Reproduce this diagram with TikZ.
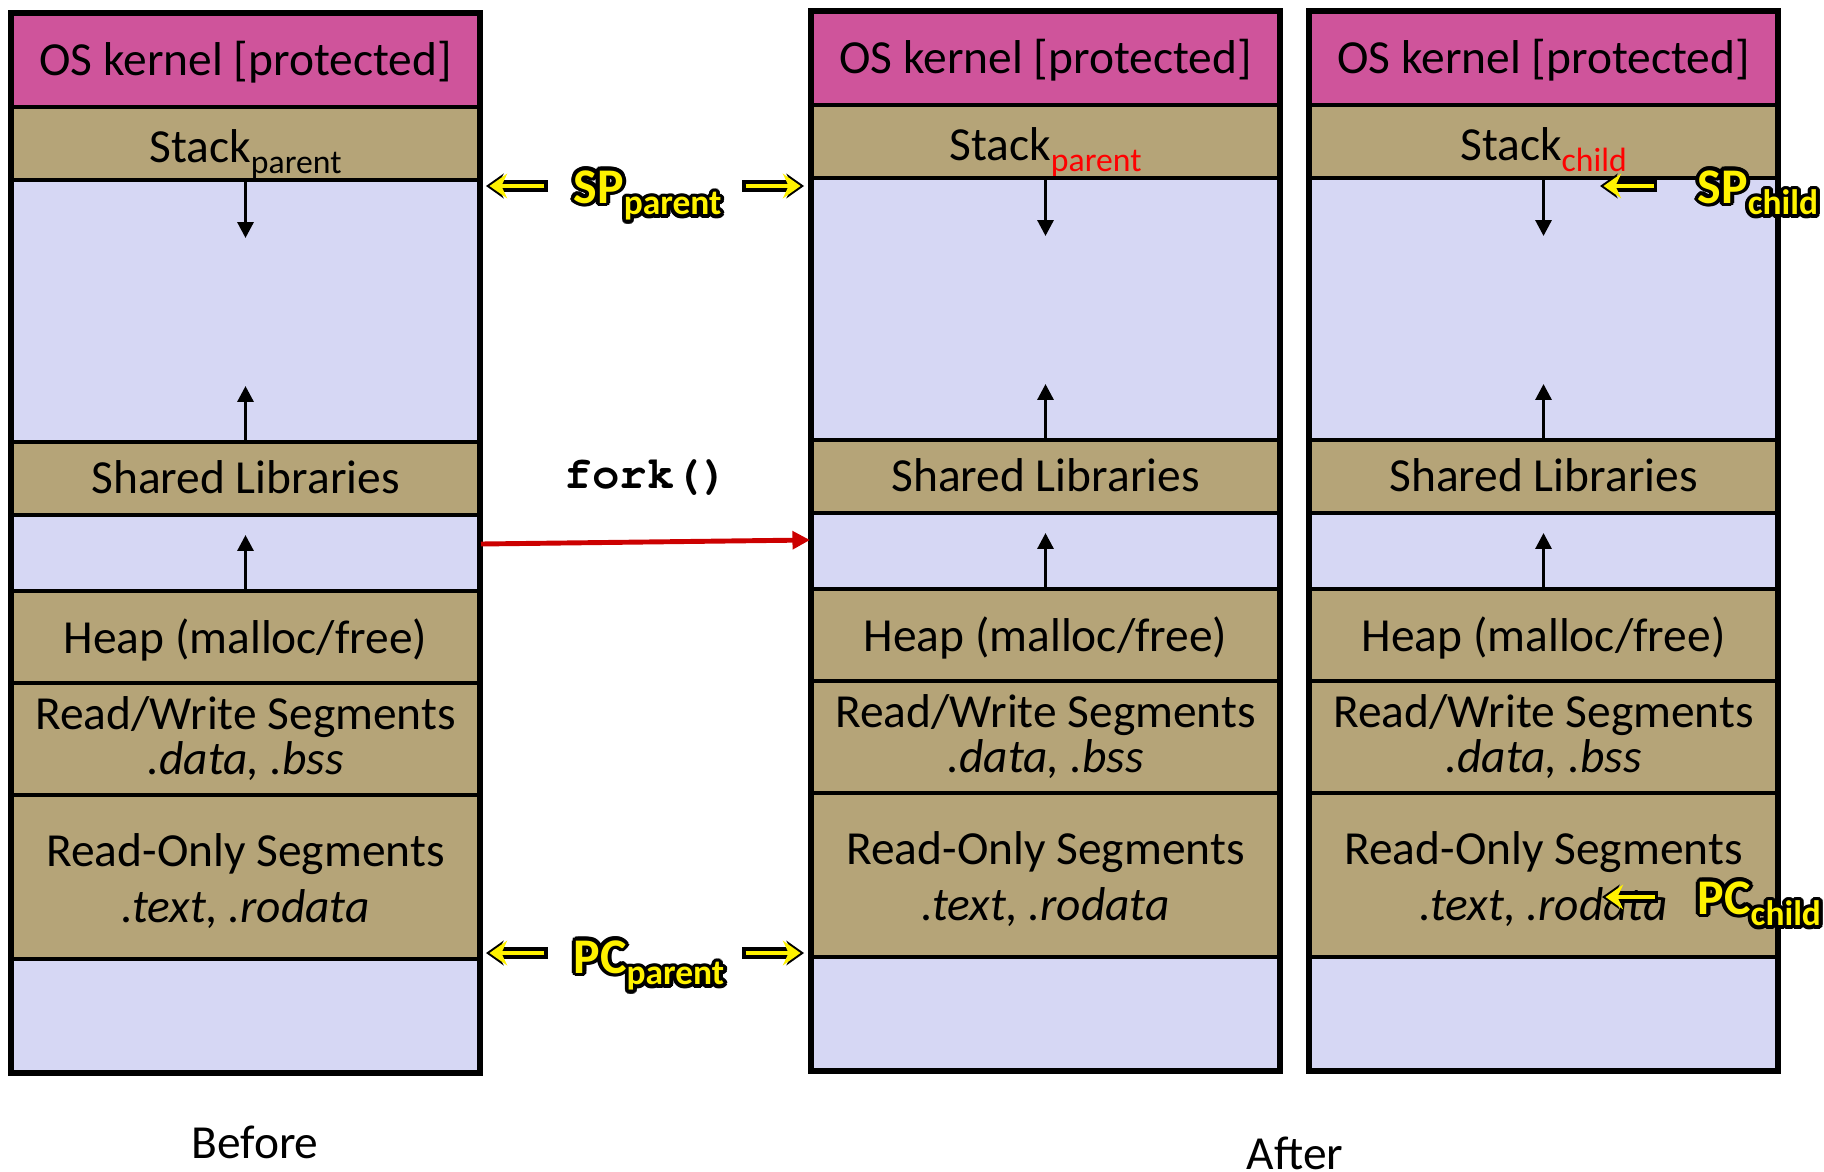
\documentclass[tikz,border=0pt]{standalone}
\usepackage{fontspec}
\usepackage[T1,TU]{fontenc}
\setmainfont{Carlito}
\newcommand\codefont{\fontencoding{T1}\fontfamily{pcr}\fontseries{b}\selectfont}
\usetikzlibrary{arrows.meta}

\definecolor{kernpink}{RGB}{207,84,155}
\definecolor{segtan}{RGB}{181,164,120}
\definecolor{freelav}{RGB}{214,215,244}
\definecolor{forkred}{RGB}{204,0,0}

% small lowered word after a name
\newcommand\subtag[2][.]{\raisebox{-0.24em}{\scalebox{0.71}{\color{#1}#2}}}

% yellow register name with a black halo round it
\newcommand\glowtag[3]{%
  \foreach \a in {0,22.5,...,337.5}
    \node[regtag,text=black] at ([shift={(\a:1.1pt)}]#2) {#3};
  \node[regtag] (#1) at (#2) {#3};}

\begin{document}
\begin{tikzpicture}[x=0.1mm,y=-0.1mm,
    seg/.style={draw,line width=0.9pt,inner sep=0,minimum width=4.67cm,align=center,
      font=\fontsize{13.5}{16}\selectfont},
    oneline/.style={text height=8.6pt,text depth=0pt},
    growarrow/.style={-{Triangle[length=4.5pt,width=4.5pt]},line width=0.9pt},
    regtag/.style={anchor=base west,inner sep=0,text=yellow,
      font=\bfseries\fontsize{14.2}{17}\selectfont},
    halo/.style={draw=black,line width=3.2pt,line join=round,-{Stealth[length=5pt,width=7pt]}},
    ptr/.style={draw=yellow,line width=1.4pt,shorten >=1pt,shorten <=1pt,
      -{Stealth[length=5pt,width=7pt]}},
    caption/.style={font=\fontsize{13.5}{16}\selectfont}]

  \useasboundingbox (0,0) rectangle (1824,1171);

  % the three address spaces: before, parent after, child after
  \foreach \c/\x/\dy/\sb in {b/12/2/{\subtag{parent}},
                              p/812/0/{\subtag[red]{parent}},
                              k/1310/0/{\subtag[red]{child}}} {
    \begin{scope}[shift={(\x+233.5,\dy)}]
      \node[seg,oneline,fill=kernpink,minimum height=0.93cm] (\c-kern) at (0,58.5) {OS kernel [protected]};
      \node[seg,oneline,text height=10.6pt,fill=segtan,minimum height=0.73cm] (\c-stack) at (0,141.5) {Stack\sb};
      \node[seg,fill=freelav,minimum height=2.62cm] (\c-gap) at (0,309) {};
      \node[seg,oneline,fill=segtan,minimum height=0.73cm] (\c-lib) at (0,476.5) {Shared Libraries};
      \node[seg,fill=freelav,minimum height=0.76cm] (\c-brk) at (0,551) {};
      \node[seg,oneline,text height=9.2pt,fill=segtan,minimum height=0.92cm] (\c-heap) at (0,635) {Heap (malloc/free)};
      \node[seg,fill=segtan,minimum height=1.12cm] (\c-data) at (0,737)
        {Read/Write Segments\\[-3.2pt]\textit{.data, .bss}};
      \node[seg,fill=segtan,minimum height=1.64cm] (\c-text) at (0,875)
        {\rule{0pt}{11.5pt}Read-Only Segments\\\textit{.text, .rodata}};
      \node[seg,fill=freelav,minimum height=1.13cm] (\c-low) at (0,1013.5) {};
      \draw[line width=1.4pt] (\c-kern.north west) rectangle (\c-low.south east);

      \coordinate (\c-stk-end) at (0,236);
      \coordinate (\c-lib-end) at (0,384);
      \coordinate (\c-brk-end) at (0,533);
      \draw[growarrow] (\c-stack.south) -- (\c-stk-end);
      \draw[growarrow] (\c-lib.north) -- (\c-lib-end);
      \draw[growarrow] (\c-heap.north) -- (\c-brk-end);
    \end{scope}
  }

  % fork() copies the whole space
  \node[font=\codefont\fontsize{13}{15}\selectfont] (fork) at (647,477) {fork()};
  \coordinate (fork-from) at (481,544);
  \coordinate (fork-to) at (810,540);
  \draw[forkred,line width=1.4pt,-{Triangle[length=5pt,width=5pt]}] (fork-from) -- (fork-to);

  % register pointers
  \coordinate (sp-par-at) at (573,203);
  \coordinate (pc-par-at) at (573,973);
  \coordinate (sp-chd-at) at (1697,203);
  \coordinate (pc-chd-at) at (1697,914);

  \coordinate (sp-l-from) at (548,186);  \coordinate (sp-l-to) at (486,186);
  \coordinate (sp-r-from) at (742,186);  \coordinate (sp-r-to) at (804,186);
  \coordinate (pc-l-from) at (548,953);  \coordinate (pc-l-to) at (486,953);
  \coordinate (pc-r-from) at (742,953);  \coordinate (pc-r-to) at (804,953);
  \coordinate (sp-k-from) at (1657,186); \coordinate (sp-k-to) at (1600,186);
  \coordinate (pc-k-from) at (1658,897); \coordinate (pc-k-to) at (1602,897);

  \foreach \f/\t in {sp-l-from/sp-l-to, sp-r-from/sp-r-to, pc-l-from/pc-l-to,
                     pc-r-from/pc-r-to, sp-k-from/sp-k-to, pc-k-from/pc-k-to} {
    \draw[halo] (\f) -- (\t);
    \draw[ptr] (\f) -- (\t);
  }

  \glowtag{sp-par}{sp-par-at}{SP\subtag{parent}}
  \glowtag{pc-par}{pc-par-at}{PC\subtag{parent}}
  \glowtag{sp-chd}{sp-chd-at}{SP\subtag{child}}
  \glowtag{pc-chd}{pc-chd-at}{PC\subtag{child}}

  \node[caption] (before) at (255,1142) {Before};
  \node[caption] (after) at (1295,1153) {After};
\end{tikzpicture}
\end{document}
